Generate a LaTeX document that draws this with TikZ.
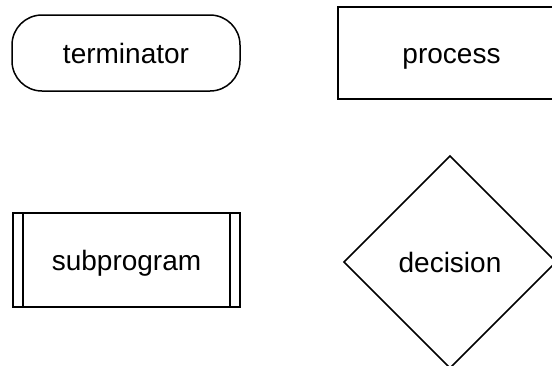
\documentclass[tikz,border=0pt]{standalone}
\usepackage{fontspec}
\setmainfont{Liberation Sans}
\usetikzlibrary{shapes.geometric}
\begin{document}
\begin{tikzpicture}[x=1pt,y=-1pt,
  every node/.style={line width=1.5pt,inner sep=0pt,outer sep=0pt,
    text height=21pt,text depth=0pt,font=\fontsize{28}{33}\selectfont},
  termbox/.style={draw,rounded corners=30pt,minimum width=228pt,minimum height=76pt},
  procbox/.style={draw,rectangle,minimum width=227pt,minimum height=92pt},
  subbox/.style={draw,rectangle,minimum width=227pt,minimum height=94pt},
  decbox/.style={draw,diamond,minimum width=212pt,minimum height=212pt}]
  \useasboundingbox (0,0) rectangle (552,365);
  \clip (0,0) rectangle (552,365);
  \node[termbox] (terminator) at (126,53) {terminator};
  \node[procbox] (process) at (451.5,53) {process};
  \node[subbox] (subprogram) at (126.5,260) {subprogram};
  % side bars of the subprogram box
  \draw[line width=1.5pt] ([xshift=10pt]subprogram.north west) -- ([xshift=10pt]subprogram.south west);
  \draw[line width=1.5pt] ([xshift=-10pt]subprogram.north east) -- ([xshift=-10pt]subprogram.south east);
  \node[decbox] (decision) at (450,262) {decision};
\end{tikzpicture}
\end{document}
